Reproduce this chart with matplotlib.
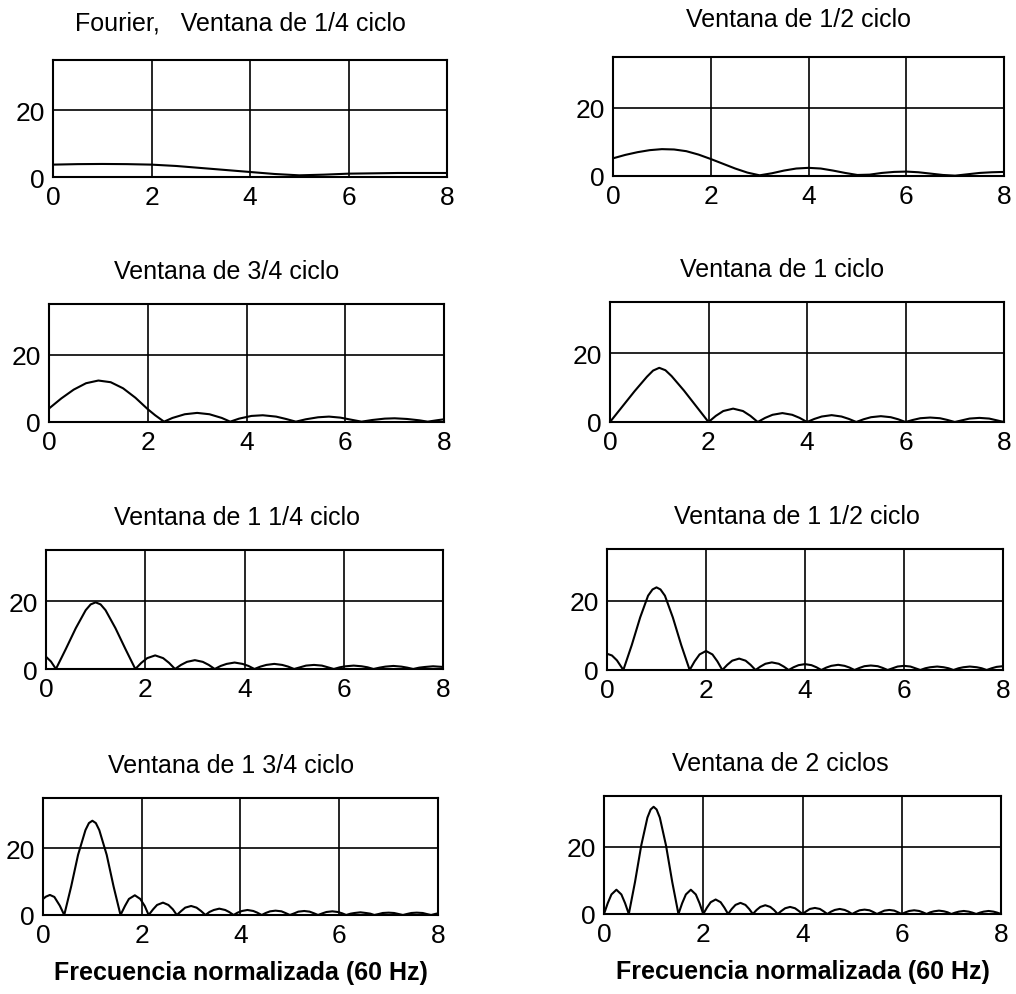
import matplotlib
matplotlib.use("Agg")
import matplotlib.pyplot as plt

plt.rcParams['font.family'] = ['Liberation Sans', 'DejaVu Sans']

# magnitude of the Fourier filter response vs normalized frequency (f / 60 Hz)
freq_q1 = [0, 0.5, 1, 1.5, 2, 2.5, 3, 3.5, 4, 4.5, 5, 5.5, 6, 6.5, 7, 7.5, 8]
mag_q1 = [3.7, 3.85, 3.9, 3.85, 3.7, 3.3, 2.7, 2.1, 1.5, 0.9, 0.5, 0.7, 1.0, 1.1, 1.2, 1.2, 1.2]

freq_q2 = [0, 0.25, 0.5, 0.75, 1, 1.25, 1.5, 1.75, 2, 2.25, 2.5, 2.75, 3, 3.25, 3.5, 3.75, 4,
           4.25, 4.5, 4.75, 5, 5.25, 5.5, 5.75, 6, 6.25, 6.5, 6.75, 7, 7.25, 7.5, 7.75, 8]
mag_q2 = [5.2, 6.2, 7.0, 7.6, 7.9, 7.8, 7.3, 6.3, 5.0, 3.6, 2.2, 1.0, 0.2, 0.8, 1.6, 2.2, 2.4,
          2.2, 1.6, 0.9, 0.3, 0.4, 0.9, 1.2, 1.3, 1.1, 0.7, 0.3, 0.1, 0.5, 0.9, 1.1, 1.2]

freq_q3 = [0, 0.25, 0.5, 0.75, 1, 1.25, 1.5, 1.75, 2, 2.15, 2.33,
           2.5, 2.75, 3, 3.25, 3.5, 3.67,
           3.85, 4.1, 4.33, 4.6, 4.8, 5,
           5.2, 5.45, 5.67, 5.9, 6.15, 6.33,
           6.55, 6.8, 7.0, 7.25, 7.5, 7.67,
           7.85, 8]
mag_q3 = [4.0, 7.0, 9.6, 11.5, 12.3, 11.8, 10.0, 7.2, 3.8, 2.0, 0.1,
          1.2, 2.3, 2.7, 2.3, 1.2, 0.1,
          1.0, 1.8, 2.0, 1.6, 0.9, 0.1,
          0.8, 1.4, 1.6, 1.3, 0.6, 0.1,
          0.6, 1.0, 1.1, 0.9, 0.5, 0.1,
          0.5, 0.8]

freq_q4 = [0, 0.25, 0.5, 0.75, 0.875, 1, 1.125, 1.25, 1.5, 1.75, 2,
           2.15, 2.3, 2.5, 2.7, 2.85, 3,
           3.15, 3.3, 3.5, 3.7, 3.85, 4,
           4.15, 4.3, 4.5, 4.7, 4.85, 5,
           5.15, 5.3, 5.5, 5.7, 5.85, 6,
           6.15, 6.3, 6.5, 6.7, 6.85, 7,
           7.15, 7.3, 7.5, 7.7, 7.85, 8]
mag_q4 = [0, 4.5, 9.0, 13.2, 15.0, 15.8, 15.1, 13.4, 9.2, 4.6, 0,
          1.8, 3.2, 3.9, 3.2, 1.8, 0,
          1.2, 2.1, 2.6, 2.1, 1.2, 0,
          0.9, 1.6, 2.0, 1.6, 0.9, 0,
          0.8, 1.4, 1.7, 1.4, 0.8, 0,
          0.6, 1.1, 1.3, 1.1, 0.6, 0,
          0.5, 1.0, 1.2, 1.0, 0.5, 0]

freq_q5 = [0, 0.1, 0.2, 0.4, 0.6, 0.8, 0.9, 1.0, 1.1, 1.2, 1.4, 1.6, 1.8,
           1.92, 2.04, 2.2, 2.36, 2.48, 2.6,
           2.72, 2.84, 3.0, 3.16, 3.28, 3.4,
           3.52, 3.64, 3.8, 3.96, 4.08, 4.2,
           4.32, 4.44, 4.6, 4.76, 4.88, 5.0,
           5.12, 5.24, 5.4, 5.56, 5.68, 5.8,
           5.92, 6.04, 6.2, 6.36, 6.48, 6.6,
           6.72, 6.84, 7.0, 7.16, 7.28, 7.4,
           7.52, 7.64, 7.8, 8.0]
mag_q5 = [3.6, 2.2, 0, 5.9, 12.0, 17.3, 19.0, 19.6, 19.0, 17.3, 12.0, 5.9, 0,
          1.8, 3.2, 4.0, 3.2, 1.8, 0,
          1.2, 2.1, 2.6, 2.1, 1.2, 0,
          0.9, 1.5, 1.9, 1.5, 0.9, 0,
          0.7, 1.2, 1.5, 1.2, 0.7, 0,
          0.5, 1.0, 1.2, 1.0, 0.5, 0,
          0.5, 0.8, 1.0, 0.8, 0.5, 0,
          0.4, 0.7, 0.9, 0.7, 0.4, 0,
          0.4, 0.6, 0.8, 0.6]

freq_q6 = [0, 0.1, 0.2, 0.33, 0.5, 0.67, 0.83, 0.92, 1.0, 1.08, 1.17, 1.33, 1.5, 1.67,
           1.77, 1.87, 2.0, 2.13, 2.23, 2.33,
           2.43, 2.53, 2.67, 2.8, 2.9, 3.0,
           3.1, 3.2, 3.33, 3.47, 3.57, 3.67,
           3.77, 3.87, 4.0, 4.13, 4.23, 4.33,
           4.43, 4.53, 4.67, 4.8, 4.9, 5.0,
           5.1, 5.2, 5.33, 5.47, 5.57, 5.67,
           5.77, 5.87, 6.0, 6.13, 6.23, 6.33,
           6.43, 6.53, 6.67, 6.8, 6.9, 7.0,
           7.1, 7.2, 7.33, 7.47, 7.57, 7.67,
           7.77, 7.87, 8.0]
mag_q6 = [4.7, 4.2, 2.8, 0, 7.2, 15.2, 21.5, 23.3, 23.9, 23.3, 21.5, 15.2, 7.2, 0,
          2.5, 4.5, 5.5, 4.5, 2.5, 0,
          1.5, 2.7, 3.3, 2.7, 1.5, 0,
          1.0, 1.8, 2.2, 1.8, 1.0, 0,
          0.8, 1.4, 1.7, 1.4, 0.8, 0,
          0.7, 1.2, 1.5, 1.2, 0.7, 0,
          0.6, 1.1, 1.3, 1.1, 0.6, 0,
          0.5, 1.0, 1.2, 1.0, 0.5, 0,
          0.5, 0.8, 1.0, 0.8, 0.5, 0,
          0.5, 0.8, 1.0, 0.8, 0.5, 0,
          0.5, 0.9, 1.1]

freq_q7 = [0, 0.06, 0.14, 0.23, 0.34, 0.43,
           0.57, 0.71, 0.86, 0.93, 1.0, 1.07, 1.14, 1.29, 1.43, 1.57,
           1.66, 1.74, 1.86, 1.97, 2.06, 2.14,
           2.23, 2.31, 2.43, 2.54, 2.63, 2.71,
           2.8, 2.88, 3.0, 3.11, 3.2, 3.29,
           3.37, 3.46, 3.57, 3.69, 3.77, 3.86,
           3.94, 4.03, 4.14, 4.26, 4.34, 4.43,
           4.51, 4.6, 4.71, 4.83, 4.91, 5.0,
           5.09, 5.17, 5.29, 5.4, 5.49, 5.57,
           5.66, 5.74, 5.86, 5.97, 6.06, 6.14,
           6.23, 6.31, 6.43, 6.54, 6.63, 6.71,
           6.8, 6.88, 7.0, 7.11, 7.2, 7.29,
           7.37, 7.46, 7.57, 7.69, 7.77, 7.86,
           7.94, 8.0]
mag_q7 = [4.8, 5.5, 6.0, 5.4, 2.8, 0,
          8.5, 18.0, 25.4, 27.5, 28.2, 27.5, 25.4, 18.0, 8.5, 0,
          2.7, 4.8, 5.9, 4.8, 2.7, 0,
          1.7, 3.0, 3.7, 3.0, 1.7, 0,
          1.2, 2.2, 2.7, 2.2, 1.2, 0,
          0.9, 1.5, 1.9, 1.5, 0.9, 0,
          0.7, 1.2, 1.5, 1.2, 0.7, 0,
          0.6, 1.1, 1.3, 1.1, 0.6, 0,
          0.5, 1.0, 1.2, 1.0, 0.5, 0,
          0.5, 0.9, 1.1, 0.9, 0.5, 0,
          0.4, 0.6, 0.8, 0.6, 0.4, 0,
          0.3, 0.6, 0.7, 0.6, 0.3, 0,
          0.3, 0.6, 0.7, 0.6, 0.3, 0,
          0.3, 0.5]

freq_q8 = [0, 0.075, 0.15, 0.25, 0.35, 0.425, 0.5,
           0.625, 0.75, 0.875, 0.94, 1.0, 1.06, 1.125, 1.25, 1.375, 1.5,
           1.575, 1.65, 1.75, 1.85, 1.925, 2.0,
           2.075, 2.15, 2.25, 2.35, 2.425, 2.5,
           2.575, 2.65, 2.75, 2.85, 2.925, 3.0,
           3.075, 3.15, 3.25, 3.35, 3.425, 3.5,
           3.575, 3.65, 3.75, 3.85, 3.925, 4.0,
           4.075, 4.15, 4.25, 4.35, 4.425, 4.5,
           4.575, 4.65, 4.75, 4.85, 4.925, 5.0,
           5.075, 5.15, 5.25, 5.35, 5.425, 5.5,
           5.575, 5.65, 5.75, 5.85, 5.925, 6.0,
           6.075, 6.15, 6.25, 6.35, 6.425, 6.5,
           6.575, 6.65, 6.75, 6.85, 6.925, 7.0,
           7.075, 7.15, 7.25, 7.35, 7.425, 7.5,
           7.575, 7.65, 7.75, 7.85, 7.925, 8.0]
mag_q8 = [0, 3.2, 5.8, 7.2, 5.8, 3.2, 0,
          9.5, 20.3, 28.6, 31.0, 31.8, 31.0, 28.6, 20.3, 9.5, 0,
          3.2, 5.8, 7.2, 5.8, 3.2, 0,
          1.9, 3.5, 4.3, 3.5, 1.9, 0,
          1.5, 2.7, 3.3, 2.7, 1.5, 0,
          1.2, 2.1, 2.6, 2.1, 1.2, 0,
          0.9, 1.7, 2.1, 1.7, 0.9, 0,
          0.8, 1.5, 1.8, 1.5, 0.8, 0,
          0.7, 1.2, 1.5, 1.2, 0.7, 0,
          0.6, 1.1, 1.3, 1.1, 0.6, 0,
          0.5, 1.0, 1.2, 1.0, 0.5, 0,
          0.5, 0.9, 1.1, 0.9, 0.5, 0,
          0.5, 0.8, 1.0, 0.8, 0.5, 0,
          0.4, 0.7, 0.9, 0.7, 0.4, 0,
          0.4, 0.7, 0.9, 0.7, 0.4, 0]

titles = ['Fourier,   Ventana de 1/4 ciclo', 'Ventana de 1/2 ciclo',
          'Ventana de 3/4 ciclo', 'Ventana de 1 ciclo',
          'Ventana de 1 1/4 ciclo', 'Ventana de 1 1/2 ciclo',
          'Ventana de 1 3/4 ciclo', 'Ventana de 2 ciclos']
x_ticks = [0, 2, 4, 6, 8]
y_ticks = [0, 20]
x_label = 'Frecuencia normalizada (60 Hz)'

freqs = [freq_q1, freq_q2, freq_q3, freq_q4, freq_q5, freq_q6, freq_q7, freq_q8]
mags = [mag_q1, mag_q2, mag_q3, mag_q4, mag_q5, mag_q6, mag_q7, mag_q8]

W, H = 1016, 995
# left, right, top, bottom of each panel in pixels
boxes = [(53, 447, 61, 178), (613, 1004, 58, 177),
         (49, 444, 305, 423), (610, 1004, 303, 423),
         (46, 443, 551, 670), (607, 1003, 550, 671),
         (43, 438, 799, 916), (604, 1001, 797, 915)]
# horizontal shift of each title centre, pixels
title_shift = [-10, -10, -20, -25, -8, -8, -9, -22]
title_pad = [22, 22, 19, 19, 19, 19, 19, 19]

fig = plt.figure(figsize=(W / 100, H / 100), dpi=100)

for i in range(8):
    l, r, t, b = boxes[i]
    ax = fig.add_axes([l / W, 1 - b / H, (r - l) / W, (b - t) / H])
    ax.plot(freqs[i], mags[i], color='black', lw=1.5)
    ax.set_xlim(0, 8)
    ax.set_ylim(0, 35)
    ax.set_xticks(x_ticks)
    ax.set_yticks(y_ticks)
    ax.grid(True, color='black', linestyle='-', linewidth=1.2)
    ax.tick_params(length=0, labelsize=19, pad=6)
    for s in ax.spines.values():
        s.set_linewidth(1.5)
    ax.set_title(titles[i], fontsize=18, pad=title_pad[i],
                 x=0.5 + title_shift[i] / (r - l))
    if i >= 6:
        ax.set_xlabel(x_label, fontsize=18, fontweight='bold', labelpad=9)

fig.savefig('out.png', dpi=100)
